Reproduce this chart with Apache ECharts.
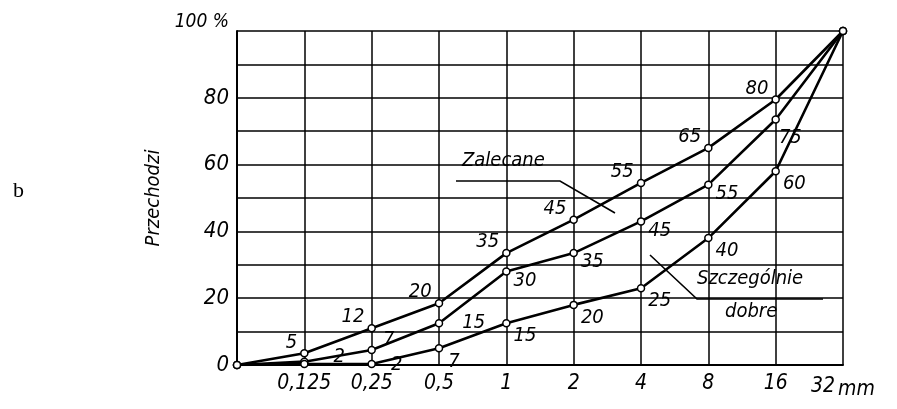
<!DOCTYPE html>
<html>
<head>
<meta charset="utf-8">
<script src="https://cdn.jsdelivr.net/npm/echarts@6/dist/echarts.min.js"></script>
<style>
html,body{margin:0;padding:0;background:#fff;}
#c{width:897px;height:409px;}
</style>
</head>
<body>
<div id="c"></div>
<script>
// sieve sizes (category positions 0..9)
var sieveLabels = ['', '0,125', '0,25', '0,5', '1', '2', '4', '8', '16', '32'];
// plotted passing percentages
var upperValues  = [0, 3.5, 11, 18.5, 33.5, 43.5, 54.5, 65, 79.5, 100];
var middleValues = [0, 1, 4.5, 12.5, 28, 33.5, 43, 54, 73.5, 100];
var lowerValues  = [0, 0.3, 0.3, 5, 12.5, 18, 23, 38, 58, 100];
// printed numbers next to points
var upperLabels  = ['', '5', '12', '20', '35', '45', '55', '65', '80', ''];
var middleLabels = ['', '2', '7', '15', '30', '35', '45', '55', '75', ''];
var lowerLabels  = ['', '', '2', '7', '15', '20', '25', '40', '60', ''];

var FONT = "'Liberation Sans Narrow', 'DejaVu Sans Condensed', 'DejaVu Sans', sans-serif";

var nudges = {
  upper: {},
  middle: {1: [22, -5], 2: [4, -10], 3: [16, 0], 8: [-4, 18]},
  lower: {2: [12, 1], 3: [2, 13]}
};

function build(vals, lbls, key) {
  return vals.map(function (v, i) {
    var item = {value: [i, v]};
    var lab = {formatter: lbls[i] || ''};
    if (nudges[key][i]) lab.offset = nudges[key][i];
    item.label = lab;
    return item;
  });
}

function lineSeries(name, vals, lbls, key, pos, off) {
  return {
    name: name,
    type: 'line',
    data: build(vals, lbls, key),
    symbol: 'circle',
    symbolSize: 7,
    lineStyle: {color: '#000', width: 2.6},
    itemStyle: {color: '#fff', borderColor: '#000', borderWidth: 1.5},
    label: {
      show: true, position: pos, distance: 3, offset: off,
      color: '#000', fontFamily: FONT, fontStyle: 'italic', fontSize: 20
    },
    z: 3,
    silent: true,
    animation: false
  };
}

var chart = echarts.init(document.getElementById('c'), null, {renderer: 'canvas'});
chart.setOption({
  animation: false,
  backgroundColor: '#fff',
  grid: {left: 237, right: 54, top: 31, bottom: 44, containLabel: false},
  xAxis: {
    type: 'value', min: 0, max: 9, interval: 1,
    axisLine: {show: true, lineStyle: {color: '#000', width: 2}},
    axisTick: {show: false},
    splitLine: {show: true, lineStyle: {color: '#000', width: 1.5}},
    axisLabel: {
      margin: 8,
      formatter: function (v) {
        if (v === 9) return '{n|32}{u|mm}';
        return sieveLabels[v] || '';
      },
      color: '#000', fontFamily: FONT, fontStyle: 'italic', fontSize: 21,
      rich: {
        n: {fontFamily: FONT, fontStyle: 'italic', fontSize: 21, color: '#000'},
        u: {fontFamily: FONT, fontStyle: 'italic', fontSize: 21, color: '#000', padding: [6, 0, 0, 3]}
      }
    }
  },
  yAxis: {
    type: 'value', min: 0, max: 100, interval: 10,
    name: 'Przechodzi', nameLocation: 'middle', nameGap: 64, nameRotate: 90,
    nameTextStyle: {color: '#000', fontFamily: FONT, fontStyle: 'italic', fontSize: 20},
    axisLine: {show: true, lineStyle: {color: '#000', width: 2}},
    axisTick: {show: false},
    splitLine: {show: true, lineStyle: {color: '#000', width: 1.5}},
    axisLabel: {
      margin: 8,
      formatter: function (v) {
        if (v === 100) return '{s|100 %}';
        return v % 20 === 0 ? String(v) : '';
      },
      color: '#000', fontFamily: FONT, fontStyle: 'italic', fontSize: 22,
      rich: {s: {fontFamily: FONT, fontStyle: 'italic', fontSize: 19, color: '#000', padding: [0, 0, 18, 0]}}
    }
  },
  series: [
    lineSeries('upper', upperValues, upperLabels, 'upper', 'left', [0, -11]),
    lineSeries('middle', middleValues, middleLabels, 'middle', 'right', [0, 9]),
    lineSeries('lower', lowerValues, lowerLabels, 'lower', 'right', [0, 13])
  ],
  graphic: [
    {type: 'text', left: 13, top: 180, style: {text: 'b', font: '22px "Liberation Serif", serif', fill: '#000'}},
    // Zalecane annotation
    {type: 'text', left: 462, top: 151, style: {text: 'Zalecane', font: 'italic 20px ' + FONT, fill: '#000'}, z: 10},
    {type: 'polyline', shape: {points: [[456, 181], [560, 181], [615, 213]]}, style: {stroke: '#000', lineWidth: 1.6, fill: null}, z: 10},
    // Szczegolnie dobre annotation
    {type: 'text', left: 697, top: 269, style: {text: 'Szczególnie', font: 'italic 20px ' + FONT, fill: '#000'}, z: 10},
    {type: 'text', left: 725, top: 302, style: {text: 'dobre', font: 'italic 20px ' + FONT, fill: '#000'}, z: 10},
    {type: 'polyline', shape: {points: [[823, 299], [697, 299], [650, 255]]}, style: {stroke: '#000', lineWidth: 1.6, fill: null}, z: 10}
  ]
});
</script>
</body>
</html>
